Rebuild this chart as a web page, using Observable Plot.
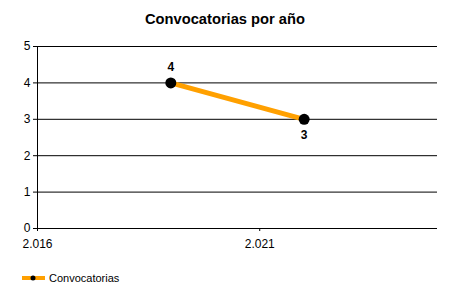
<!DOCTYPE html>
<html>
<head>
<meta charset="utf-8">
<script src="https://cdn.jsdelivr.net/npm/d3@7"></script>
<script src="https://cdn.jsdelivr.net/npm/@observablehq/plot@0.6"></script>
<style>
  body { margin: 0; background: #fff; font-family: "Liberation Sans", Arial, sans-serif; }
  #wrap { width: 450px; }
  #title { height: 36px; line-height: 38px; text-align: center; font-weight: bold; font-size: 14.7px; color: #000; }
  #legend { height: 24px; display: flex; align-items: center; padding-left: 22px; font-size: 11px; color: #000; }
  #legend svg { margin-right: 4px; }
</style>
</head>
<body>
<div id="wrap">
  <div id="title">Convocatorias por año</div>
  <div id="chart"></div>
  <div id="legend"></div>
</div>
<script>
// Convocatorias publicadas cada año
const years = [2019, 2022];
const counts = [4, 3];
const seriesName = "Convocatorias";
const xTicks = [2016, 2021];
const yTicks = [0, 1, 2, 3, 4, 5];
const xDomain = [2016, 2025];
const yDomain = [0, 5];

const data = years.map((year, i) => ({year, count: counts[i]}));
const lineColor = "#FFA000";

// Thousands separator as a dot ("2.016")
const fmt = d3.formatLocale({decimal: ",", thousands: ".", grouping: [3], currency: ["", ""]}).format(",");

const chart = Plot.plot({
  width: 450,
  height: 230,
  marginTop: 10,
  marginBottom: 38,
  marginLeft: 37,
  marginRight: 13,
  style: {fontFamily: "\"Liberation Sans\", Arial, sans-serif", fontSize: "12px", color: "#000", background: "#fff"},
  x: {domain: xDomain, ticks: xTicks, tickFormat: fmt, tickSize: 3, tickPadding: 8, label: null},
  y: {domain: yDomain, ticks: yTicks, tickFormat: d => String(d), tickSize: 4, tickPadding: 3, label: null},
  marks: [
    Plot.ruleY(yTicks, {stroke: "#000", strokeWidth: 1}),
    Plot.ruleX([xDomain[0]], {y1: yDomain[0], y2: yDomain[1], stroke: "#000"}),
    Plot.line(data, {x: "year", y: "count", stroke: lineColor, strokeWidth: 5}),
    Plot.dot(data, {x: "year", y: "count", r: 5.5, fill: "#000", stroke: null}),
    // value labels: first point above, second below
    Plot.text(data, {
      x: "year", y: "count", text: d => String(d.count),
      fontWeight: "bold", fontSize: 12,
      filter: (d, i) => i === 0, dy: -16
    }),
    Plot.text(data, {
      x: "year", y: "count", text: d => String(d.count),
      fontWeight: "bold", fontSize: 12,
      filter: (d, i) => i === 1, dy: 16
    })
  ]
});
document.getElementById("chart").appendChild(chart);

// Legend entry: orange line with a black marker
const legend = document.getElementById("legend");
legend.innerHTML = `<svg width="23" height="8"><line x1="0" x2="23" y1="4" y2="4" stroke="${lineColor}" stroke-width="4"/><circle cx="11" cy="4" r="2.5" fill="#000"/></svg><span>${seriesName}</span>`;
</script>
</body>
</html>
